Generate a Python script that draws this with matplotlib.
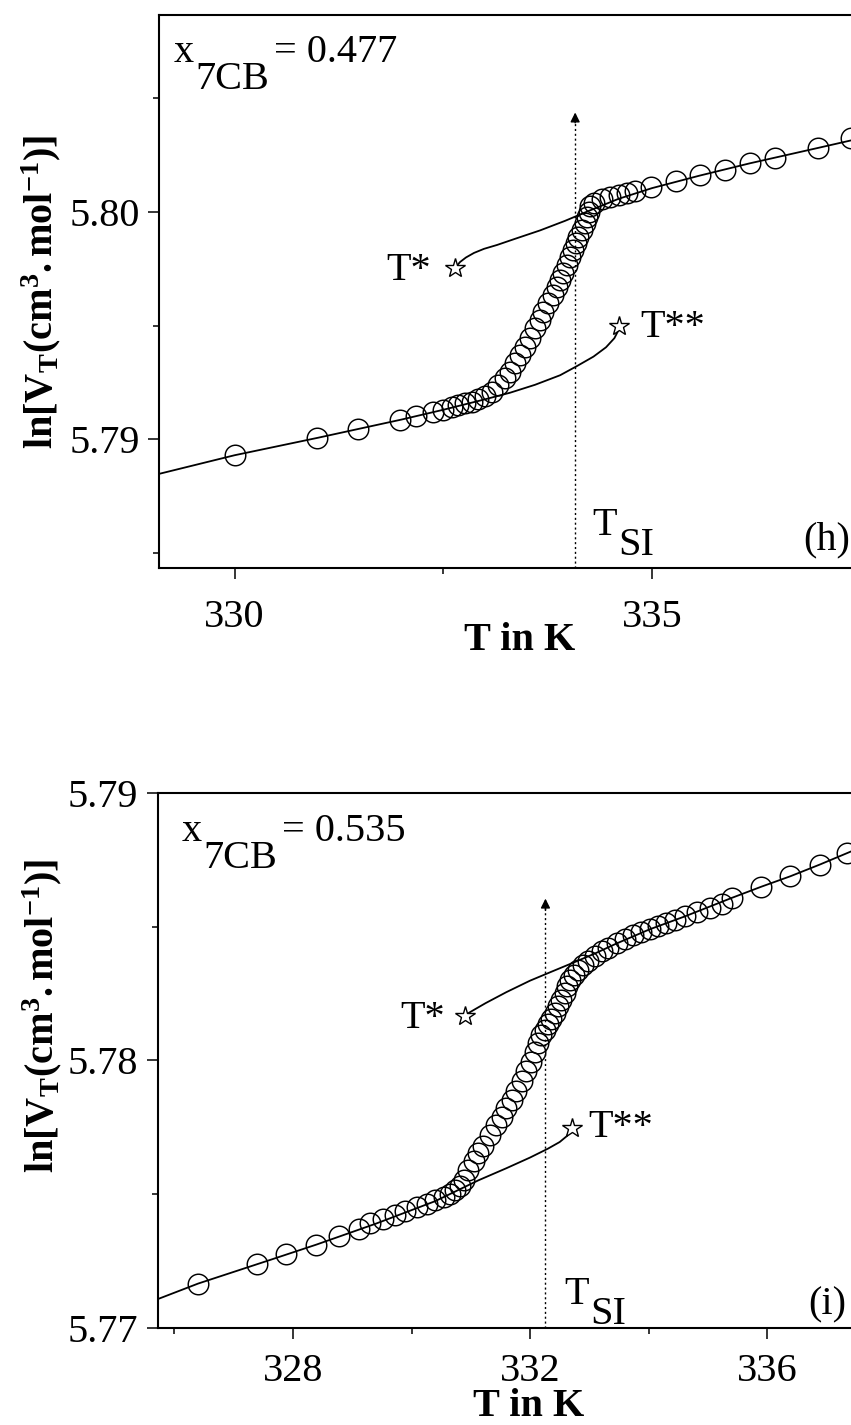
import matplotlib
matplotlib.use('Agg')
import matplotlib.pyplot as plt
from matplotlib.ticker import MultipleLocator, FormatStrFormatter

plt.rcParams['font.family'] = ['Liberation Serif', 'DejaVu Serif']
plt.rcParams['mathtext.fontset'] = 'custom'
plt.rcParams['mathtext.rm'] = 'Liberation Serif'
plt.rcParams['mathtext.it'] = 'Liberation Serif:italic'
plt.rcParams['mathtext.bf'] = 'Liberation Serif:bold'

# ---------------- data: panel (h), x7CB = 0.477 ----------------
h_T = [330.00, 330.99, 331.48, 331.98, 332.17, 332.38, 332.50, 332.60, 332.68,
       332.76, 332.84, 332.92, 333.00, 333.08, 333.16, 333.24, 333.30, 333.36,
       333.42, 333.48, 333.54, 333.60, 333.66, 333.70, 333.76, 333.82, 333.86,
       333.90, 333.94, 333.98, 334.02, 334.06, 334.09, 334.12, 334.16, 334.20,
       334.22, 334.24, 334.26, 334.30, 334.40, 334.50, 334.60, 334.70, 334.80,
       334.99, 335.29, 335.57, 335.87, 336.17, 336.47, 336.99, 337.38]
h_lnV = [5.78930, 5.79007, 5.79047, 5.79087, 5.79101, 5.79120, 5.79130, 5.79142, 5.79150,
         5.79158, 5.79166, 5.79176, 5.79190, 5.79210, 5.79238, 5.79268, 5.79298, 5.79334,
         5.79371, 5.79407, 5.79444, 5.79488, 5.79525, 5.79561, 5.79598, 5.79635, 5.79671,
         5.79701, 5.79730, 5.79767, 5.79803, 5.79833, 5.79862, 5.79891, 5.79920, 5.79950,
         5.79979, 5.80001, 5.80026, 5.80040, 5.80057, 5.80067, 5.80074, 5.80082, 5.80093,
         5.80108, 5.80136, 5.80162, 5.80187, 5.80214, 5.80238, 5.80282, 5.80325]
# fitted curve, nematic side (ends at T**)
h_fitN_T = [329.095, 330.0, 331.0, 332.0, 332.5, 333.0, 333.3, 333.6, 333.9, 334.1,
            334.3, 334.45, 334.55, 334.61]
h_fitN_lnV = [5.78848, 5.78930, 5.79007, 5.79087, 5.79130, 5.79176, 5.79205, 5.79240, 5.79282, 5.79322,
              5.79364, 5.79405, 5.79445, 5.79488]
# fitted curve, isotropic side (ends at T*)
h_fitI_T = [332.641, 332.701, 332.772, 332.868, 332.988, 333.144, 333.359, 333.659, 333.958,
            334.257, 334.60, 335.00, 335.57, 336.17, 336.99, 337.60]
h_fitI_lnV = [5.79754, 5.79780, 5.79800, 5.79820, 5.79838, 5.79855, 5.79882, 5.79919, 5.79961,
              5.80007, 5.80058, 5.80105, 5.80160, 5.80214, 5.80282, 5.80333]
h_Tstar = (332.64, 5.79752)
h_Tstar2 = (334.61, 5.79500)
h_TSI = 334.08

# ---------------- data: panel (i), x7CB = 0.535 ----------------
i_T = [326.40, 327.40, 327.89, 328.39, 328.78, 329.11, 329.30, 329.52, 329.72, 329.89,
       330.09, 330.26, 330.40, 330.54, 330.65, 330.73, 330.82, 330.88, 330.96, 331.05,
       331.13, 331.21, 331.32, 331.43, 331.53, 331.60, 331.69, 331.77, 331.86, 331.94,
       332.01, 332.08, 332.14, 332.19, 332.25, 332.30, 332.36, 332.42, 332.47, 332.53,
       332.59, 332.63, 332.67, 332.74, 332.81, 332.90, 332.98, 333.09, 333.21, 333.32,
       333.46, 333.60, 333.74, 333.88, 334.02, 334.16, 334.30, 334.44, 334.61, 334.81,
       335.03, 335.23, 335.40, 335.90, 336.39, 336.89, 337.34]
i_lnV = [5.77166, 5.77240, 5.77278, 5.77312, 5.77345, 5.77371, 5.77393, 5.77407, 5.77424, 5.77436,
         5.77452, 5.77465, 5.77477, 5.77490, 5.77502, 5.77514, 5.77532, 5.77552, 5.77590, 5.77625,
         5.77655, 5.77680, 5.77720, 5.77760, 5.77790, 5.77822, 5.77853, 5.77884, 5.77922, 5.77959,
         5.77995, 5.78030, 5.78065, 5.78095, 5.78115, 5.78135, 5.78155, 5.78178, 5.78202, 5.78227,
         5.78252, 5.78277, 5.78302, 5.78321, 5.78339, 5.78358, 5.78370, 5.78389, 5.78408, 5.78421,
         5.78439, 5.78454, 5.78467, 5.78479, 5.78492, 5.78501, 5.78514, 5.78526, 5.78539, 5.78554,
         5.78570, 5.78586, 5.78607, 5.78649, 5.78688, 5.78732, 5.78776]
i_fitN_T = [325.72, 326.40, 327.61, 328.40, 329.40, 330.40, 331.13, 331.60, 332.00, 332.30,
            332.50, 332.62, 332.70]
i_fitN_lnV = [5.77108, 5.77166, 5.77254, 5.77312, 5.77390, 5.77474, 5.77552, 5.77597, 5.77637, 5.77670,
              5.77695, 5.77717, 5.77748]
i_fitI_T = [330.90, 330.97, 331.07, 331.25, 331.60, 332.00, 332.40, 332.76, 333.10, 333.46, 334.02,
            334.61, 335.40, 335.90, 336.39, 336.89, 337.60]
i_fitI_lnV = [5.78165, 5.78178, 5.78191, 5.78214, 5.78255, 5.78298, 5.78335, 5.78368, 5.78400, 5.78437,
              5.78490, 5.78538, 5.78607, 5.78649, 5.78688, 5.78732, 5.78798]
i_Tstar = (330.90, 5.78165)
i_Tstar2 = (332.70, 5.77748)
i_TSI = 332.26

W, H = 851, 1425
fig = plt.figure(figsize=(W / 100, H / 100), dpi=100)

def px(x, y):
    return x / W, 1 - y / H

FS = 29

def style_axes(ax):
    for s in ax.spines.values():
        s.set_linewidth(1.5)
    ax.tick_params(which='major', direction='out', length=8, width=1.1, labelsize=FS)
    ax.tick_params(which='minor', direction='out', length=4.5, width=1.1)
    ax.tick_params(top=False, right=False, which='both')

circ = dict(ls='none', marker='o', ms=14.8, mfc='none', mec='black', mew=1.05, zorder=3)
star = dict(ls='none', marker='*', ms=15, mfc='white', mec='black', mew=1.0, zorder=4)

# ---------------- top panel ----------------
ax1 = fig.add_axes([159 / W, (H - 568) / H, (869 - 159) / W, (568 - 14.7) / H])
ax1.set_xlim(329.095, 337.6)
ax1.set_ylim(5.78434, 5.80868)
ax1.plot(h_fitN_T, h_fitN_lnV, color='black', lw=1.3, zorder=2)
ax1.plot(h_fitI_T, h_fitI_lnV, color='black', lw=1.3, zorder=2)
ax1.plot(h_T, h_lnV, **circ)
ax1.plot([h_Tstar[0], h_Tstar2[0]], [h_Tstar[1], h_Tstar2[1]], **star)
ax1.plot([h_TSI, h_TSI], [5.78434, 5.8043], color='black', lw=1.0, ls=(0, (1.5, 2.0)), zorder=2)
ax1.annotate('', xy=(h_TSI, 5.80450), xytext=(h_TSI, 5.8038),
             arrowprops=dict(arrowstyle='-|>', color='black', lw=1.0, mutation_scale=14))
ax1.xaxis.set_major_locator(MultipleLocator(5))
ax1.xaxis.set_minor_locator(MultipleLocator(2.5))
ax1.yaxis.set_major_locator(MultipleLocator(0.01))
ax1.yaxis.set_minor_locator(MultipleLocator(0.005))
ax1.yaxis.set_major_formatter(FormatStrFormatter('%.2f'))
style_axes(ax1)
ax1.tick_params(axis='x', which='major', pad=14)
ax1.tick_params(axis='y', which='major', pad=6)

ax1.text(332.08, 5.79741, 'T*', fontsize=FS, ha='center', va='center')
ax1.text(334.86, 5.79492, 'T**', fontsize=FS, ha='left', va='center')
ax1.text(336.81, 5.78557, '(h)', fontsize=FS, ha='left', va='center')

# ---------------- bottom panel ----------------
ax2 = fig.add_axes([157.8 / W, (H - 1328) / H, (862 - 157.8) / W, (1328 - 792.8) / H])
ax2.set_xlim(325.72, 337.6)
ax2.set_ylim(5.77, 5.79)
ax2.plot(i_fitN_T, i_fitN_lnV, color='black', lw=1.3, zorder=2)
ax2.plot(i_fitI_T, i_fitI_lnV, color='black', lw=1.3, zorder=2)
ax2.plot(i_T, i_lnV, **circ)
ax2.plot([i_Tstar[0], i_Tstar2[0]], [i_Tstar[1], i_Tstar2[1]], **star)
ax2.plot([i_TSI, i_TSI], [5.77, 5.7860], color='black', lw=1.0, ls=(0, (1.5, 2.0)), zorder=2)
ax2.annotate('', xy=(i_TSI, 5.78615), xytext=(i_TSI, 5.7855),
             arrowprops=dict(arrowstyle='-|>', color='black', lw=1.0, mutation_scale=14))
ax2.xaxis.set_major_locator(MultipleLocator(4))
ax2.xaxis.set_minor_locator(MultipleLocator(2))
ax2.yaxis.set_major_locator(MultipleLocator(0.01))
ax2.yaxis.set_minor_locator(MultipleLocator(0.005))
ax2.yaxis.set_major_formatter(FormatStrFormatter('%.2f'))
style_axes(ax2)
ax2.tick_params(axis='x', which='major', pad=10)
ax2.tick_params(axis='y', which='major', pad=6)

ax2.text(330.19, 5.78156, 'T*', fontsize=FS, ha='center', va='center')
ax2.text(332.99, 5.77749, 'T**', fontsize=FS, ha='left', va='center')
ax2.text(336.70, 5.77087, '(i)', fontsize=FS, ha='left', va='center')

# ---------------- composite labels (full-size subscripts) ----------------
def ftext(x, y, s, **kw):
    fig.text(*px(x, y), s, fontsize=FS, ha='left', va='baseline', **kw)

# top: x7CB = 0.477
ftext(174, 62, 'x')
ftext(195, 89, '7CB')
ftext(274, 62, '= 0.477')
# bottom: x7CB = 0.535
ftext(182, 841, 'x')
ftext(203, 868, '7CB')
ftext(282, 841, '= 0.535')
# T_SI labels
ftext(592, 535, 'T')
ftext(618, 555, 'SI')
ftext(564, 1304, 'T')
ftext(590, 1324, 'SI')

ylab = r'$\mathbf{ln[V_T(cm^3.mol^{-1})]}$'
fig.text(*px(41, 292), ylab, fontsize=FS, rotation=90, ha='center', va='center')
fig.text(*px(42, 1016), ylab, fontsize=FS, rotation=90, ha='center', va='center')
fig.text(*px(520, 640), 'T in K', fontsize=FS, fontweight='bold', ha='center', va='center')
fig.text(*px(529, 1407), 'T in K', fontsize=FS, fontweight='bold', ha='center', va='center')

fig.savefig('out.png', dpi=100)
